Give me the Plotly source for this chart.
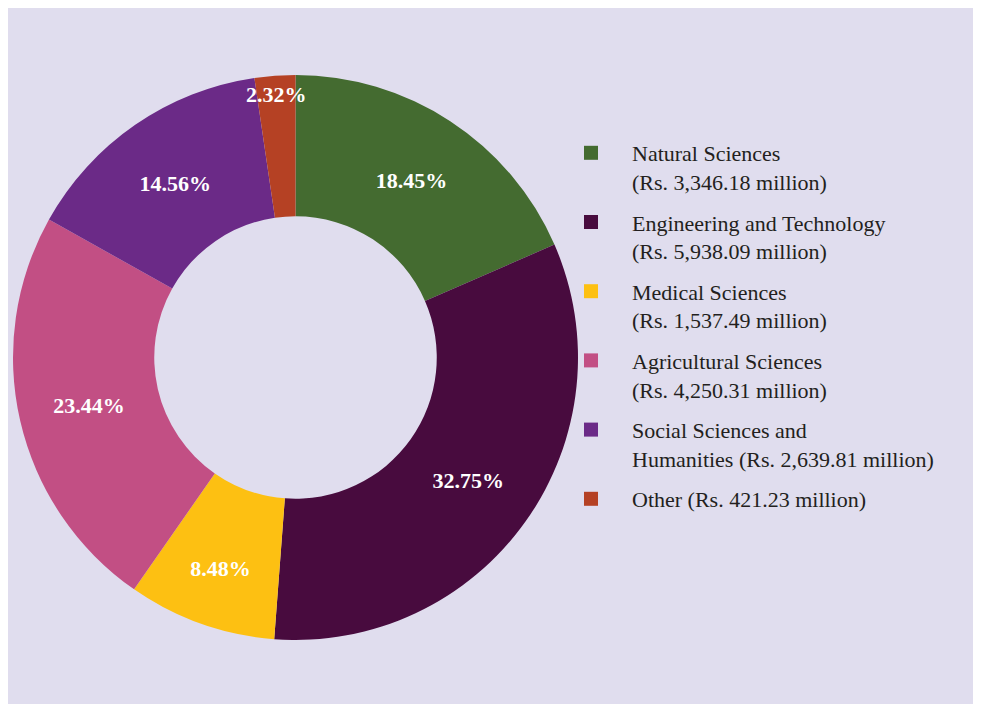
import plotly.graph_objects as go

# --- data ---
fields = [
    "Natural Sciences<br>(Rs. 3,346.18 million)",
    "Engineering and Technology<br>(Rs. 5,938.09 million)",
    "Medical Sciences<br>(Rs. 1,537.49 million)",
    "Agricultural Sciences<br>(Rs. 4,250.31 million)",
    "Social Sciences and<br>Humanities (Rs. 2,639.81 million)",
    "Other (Rs. 421.23 million)",
]
spend = [3346.18, 5938.09, 1537.49, 4250.31, 2639.81, 421.23]
share_labels = ["18.45%", "32.75%", "8.48%", "23.44%", "14.56%", "2.32%"]
colors = ["#446B30", "#480B3E", "#FDC012", "#C24F84", "#6B2A87", "#B54124"]

# page body adds an 8px margin, so the figure is sized to fit the window
W, H = 965, 696
BG = "#E0DDEE"

fig = go.Figure()

fig.add_trace(go.Pie(
    labels=fields,
    values=spend,
    text=share_labels,
    textinfo="text",
    textposition="inside",
    insidetextorientation="horizontal",
    textfont=dict(family="Liberation Serif", size=22, color="white", weight="bold"),
    hole=0.5,
    sort=False,
    direction="clockwise",
    rotation=0,
    marker=dict(colors=colors, line=dict(width=0)),
    domain=dict(x=[5 / W, 570 / W], y=[64 / H, 629 / H]),
    hoverinfo="label+value",
    showlegend=False,
))

# legend-only entries so that the gap between items can be set
for name, c in zip(fields, colors):
    fig.add_trace(go.Scatter(
        x=[None], y=[None],
        mode="markers",
        name=name,
        legendgroup=name,
        marker=dict(symbol="square", size=14, color=c),
        hoverinfo="skip",
    ))

fig.update_layout(
    width=W,
    height=H,
    margin=dict(l=0, r=0, t=0, b=0),
    paper_bgcolor=BG,
    plot_bgcolor="rgba(0,0,0,0)",
    font=dict(family="Liberation Serif", color="#231F20"),
    uniformtext=dict(minsize=22, mode="show"),
    xaxis=dict(visible=False),
    yaxis=dict(visible=False),
    legend=dict(
        x=542 / W, y=(H - 124) / H, xanchor="left", yanchor="top",
        font=dict(size=22, color="#231F20"),
        bgcolor="rgba(0,0,0,0)",
        itemwidth=72,
        valign="top",
        traceorder="grouped",
        tracegroupgap=9,
    ),
)

fig.write_html("out.html")
